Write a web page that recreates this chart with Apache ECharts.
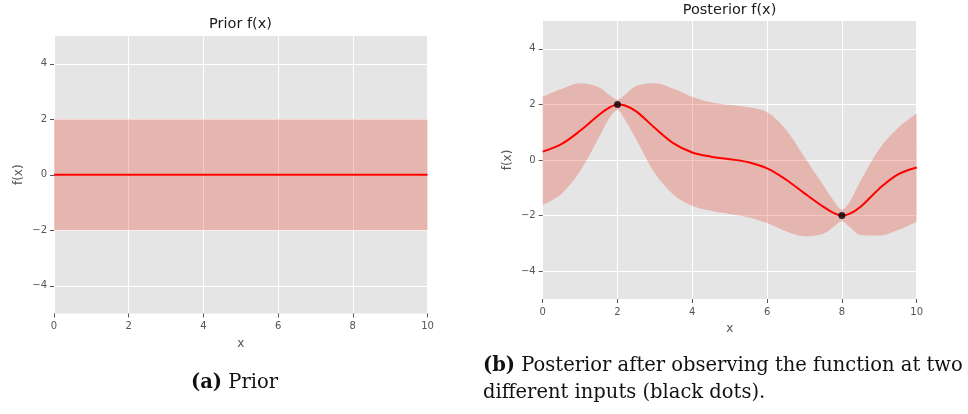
<!DOCTYPE html>
<html><head><meta charset="utf-8">
<script src="https://cdn.jsdelivr.net/npm/echarts@6/dist/echarts.min.js"></script>
<style>html,body{margin:0;padding:0;background:#fff}#c{width:968px;height:414px}</style>
</head><body><div id="c"></div>
<script>
// ---- data ----
const xTicks = [0, 2, 4, 6, 8, 10];
const yTicks = [-4, -2, 0, 2, 4];

const priorX = [0, 10];
const priorMean = [0, 0];
const priorUpper = [2, 2];
const priorLower = [-2, -2];

const postX     = [0, 0.5, 1, 1.5, 1.8, 2, 2.2, 2.5, 3, 3.5, 4, 4.5, 5, 5.5, 6, 6.5, 7, 7.5, 7.8, 8, 8.2, 8.5, 9, 9.5, 10];
const postMean  = [0.30, 0.57, 1.05, 1.62, 1.90, 2.00, 1.96, 1.75, 1.15, 0.60, 0.27, 0.12, 0.03, -0.08, -0.30, -0.70, -1.20, -1.68, -1.92, -2.00, -1.94, -1.68, -1.03, -0.52, -0.27];
const postUpper = [2.27, 2.55, 2.76, 2.62, 2.32, 2.17, 2.35, 2.66, 2.76, 2.56, 2.27, 2.08, 1.98, 1.90, 1.72, 1.10, 0.10, -0.90, -1.50, -1.78, -1.52, -0.75, 0.40, 1.15, 1.67];
const postLower = [-1.62, -1.22, -0.40, 0.80, 1.55, 1.80, 1.45, 0.75, -0.48, -1.25, -1.65, -1.83, -1.94, -2.06, -2.27, -2.56, -2.74, -2.65, -2.38, -2.20, -2.40, -2.70, -2.72, -2.52, -2.22];

const obsX = [2, 8];
const obsY = [2, -2];

const titles = ['Prior f(x)', 'Posterior f(x)'];
// ---- end data ----

const TICK = '#555555';
const BAND = 'rgba(226,74,51,0.3)';
const FONT = 'DejaVu Sans';

function xAxisFor(g) {
  return {
    type: 'value', gridIndex: g, min: 0, max: 10, interval: 2,
    axisLine: { show: false, onZero: false },
    axisTick: { show: true, length: 4, lineStyle: { color: TICK } },
    axisLabel: { color: TICK, fontSize: 10, fontFamily: FONT, margin: 8,
      formatter: v => (xTicks.indexOf(v) >= 0 ? String(v) : '') },
    splitLine: { show: true, lineStyle: { color: '#ffffff', width: 1 } },
    name: 'x', nameLocation: 'middle', nameGap: 24,
    nameTextStyle: { color: TICK, fontSize: 12, fontFamily: FONT }
  };
}
function yAxisFor(g) {
  return {
    type: 'value', gridIndex: g, min: -5, max: 5,
    axisLine: { show: false, onZero: false },
    axisTick: { show: true, length: 4, customValues: yTicks, lineStyle: { color: TICK } },
    axisLabel: { customValues: yTicks, color: TICK, fontSize: 10, fontFamily: FONT, margin: 7,
      formatter: v => String(v).replace('-', '\u2212') },
    splitLine: { show: true, lineStyle: { color: '#ffffff', width: 1 } },
    name: 'f(x)', nameLocation: 'middle', nameGap: 29,
    nameTextStyle: { color: TICK, fontSize: 12, fontFamily: FONT }
  };
}
// band: [y, x] order so the stacked dimension is y
function bandSeries(g, xs, lo, hi, key) {
  return [
    { type: 'line', xAxisIndex: g, yAxisIndex: g, stack: key, stackStrategy: 'all',
      encode: { x: 1, y: 0 },
      data: xs.map((x, i) => [lo[i], x]), symbol: 'none', smooth: 0.35,
      lineStyle: { opacity: 0 }, silent: true, z: 1 },
    { type: 'line', xAxisIndex: g, yAxisIndex: g, stack: key, stackStrategy: 'all',
      encode: { x: 1, y: 0 },
      data: xs.map((x, i) => [hi[i] - lo[i], x]), symbol: 'none', smooth: 0.35,
      lineStyle: { opacity: 0 }, areaStyle: { color: BAND, opacity: 1 }, silent: true, z: 1 }
  ];
}
function meanSeries(g, xs, m) {
  return { type: 'line', xAxisIndex: g, yAxisIndex: g, data: xs.map((x, i) => [x, m[i]]),
    symbol: 'none', smooth: 0.35, lineStyle: { color: '#ff0000', width: 2 }, z: 3 };
}

const chart = echarts.init(document.getElementById('c'), null, { renderer: 'canvas' });
chart.setOption({
  animation: false,
  backgroundColor: '#ffffff',
  grid: [
    { left: 54, top: 36, width: 373.5, height: 277.5, show: true, backgroundColor: '#E5E5E5', borderWidth: 0 },
    { left: 542.7, top: 21, width: 374, height: 278, show: true, backgroundColor: '#E5E5E5', borderWidth: 0 }
  ],
  xAxis: [xAxisFor(0), xAxisFor(1)],
  yAxis: [yAxisFor(0), yAxisFor(1)],
  series: [
    ...bandSeries(0, priorX, priorLower, priorUpper, 'prior'),
    meanSeries(0, priorX, priorMean),
    ...bandSeries(1, postX, postLower, postUpper, 'post'),
    meanSeries(1, postX, postMean),
    { type: 'scatter', xAxisIndex: 1, yAxisIndex: 1, data: obsX.map((x, i) => [x, obsY[i]]),
      symbol: 'circle', symbolSize: 7, itemStyle: { color: '#000000' }, z: 5 }
  ],
  graphic: [
    { type: 'text', x: 240.5, y: 24.5, style: { text: titles[0], fill: '#1a1a1a', font: '14.5px "DejaVu Sans"',
      textAlign: 'center', textVerticalAlign: 'middle' } },
    { type: 'text', x: 729.5, y: 10, style: { text: titles[1], fill: '#1a1a1a', font: '14.5px "DejaVu Sans"',
      textAlign: 'center', textVerticalAlign: 'middle' } },
    { type: 'text', x: 234.5, y: 383, style: {
      text: '{b|(a)} Prior', fill: '#111', font: '19.5px "DejaVu Serif"',
      textAlign: 'center', textVerticalAlign: 'middle',
      rich: { b: { fontWeight: 'bold', fontSize: 19.5, fontFamily: 'DejaVu Serif', fill: '#111' } } } },
    { type: 'text', x: 483, y: 352.5, style: {
      text: '{b|(b)} Posterior after observing the function at two\ndifferent inputs (black dots).',
      fill: '#111', font: '19.5px "DejaVu Serif"', lineHeight: 27,
      textAlign: 'left', textVerticalAlign: 'top',
      rich: { b: { fontWeight: 'bold', fontSize: 19.5, fontFamily: 'DejaVu Serif', fill: '#111', lineHeight: 27 } } } }
  ]
});
</script>
</body></html>
